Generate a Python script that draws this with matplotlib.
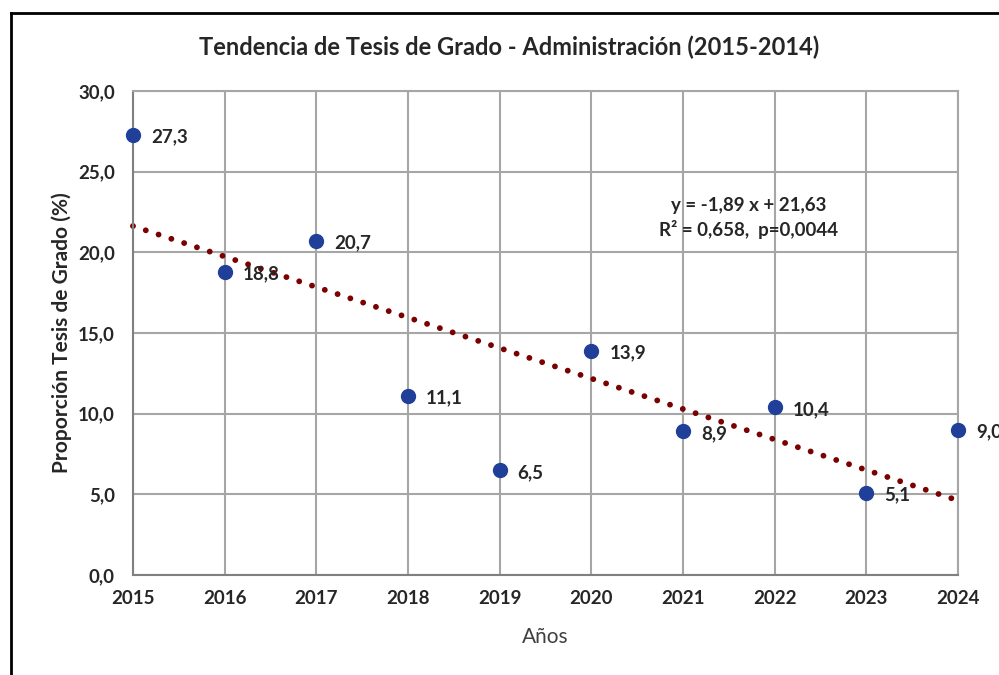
import matplotlib
matplotlib.use("Agg")
import matplotlib.pyplot as plt
from matplotlib.lines import Line2D
import numpy as np

years = [2015, 2016, 2017, 2018, 2019, 2020, 2021, 2022, 2023, 2024]
values = [27.3, 18.8, 20.7, 11.1, 6.5, 13.9, 8.9, 10.4, 5.1, 9.0]
slope = -1.89
intercept = 21.63
yticks = [0, 5, 10, 15, 20, 25, 30]

plt.rcParams['font.family'] = ['Lato', 'DejaVu Sans']

fig = plt.figure(figsize=(9.99, 6.75), dpi=100)
ax = fig.add_axes([0.1331, 0.1481, 0.959 - 0.1331, 0.8652 - 0.1481])

grid_c = '#A6A6A6'
ax.set_xlim(2015, 2024)
ax.set_ylim(0, 30)
ax.set_xticks(years)
ax.set_yticks(yticks)
ax.set_yticklabels([f"{v:.1f}".replace('.', ',') for v in yticks])
ax.grid(True, color=grid_c, linewidth=1.5)
ax.set_axisbelow(True)
for s in ax.spines.values():
    s.set_color(grid_c)
    s.set_linewidth(1.5)
ax.spines['left'].set_color('#808080')
ax.spines['bottom'].set_color('#808080')
ax.tick_params(axis='y', length=0, pad=13, labelsize=13.5, colors='#262626')
ax.tick_params(axis='x', length=0, pad=11, labelsize=13.5, colors='#262626')
for t in ax.get_xticklabels() + ax.get_yticklabels():
    t.set_fontweight('bold')

# trend line
xs = np.array(years, dtype=float)
tr = intercept + slope * (xs - years[0])
ax.plot(xs, tr, color='#7B0000', linewidth=4.2,
        linestyle=(0, (0.01, 2.3)), dash_capstyle='round', zorder=2, clip_on=False)

ax.scatter(years, values, s=100, color='#1F3F99', zorder=3, clip_on=False)
for x, v in zip(years, values):
    ax.annotate(f"{v:.1f}".replace('.', ','), (x, v), xytext=(13, -5.5),
                textcoords='offset points', fontsize=13.5, fontweight='bold',
                color='#262626', annotation_clip=False)

ax.text(2021.72, 22.9, "y = -1,89 x + 21,63", ha='center', va='center',
        fontsize=13.5, fontweight='bold', color='#262626')
ax.text(2021.72, 21.4, "R² = 0,658,  p=0,0044", ha='center', va='center',
        fontsize=13.5, fontweight='bold', color='#262626')

ax.set_xlabel("Años", fontsize=15, color='#404040', labelpad=14)
ax.set_ylabel("Proporción Tesis de Grado (%)", fontsize=15, fontweight='bold',
              color='#262626', labelpad=4)

fig.text(0.51, 0.93, "Tendencia de Tesis de Grado - Administración (2015-2014)",
         ha='center', va='center', fontsize=17, fontweight='bold', color='#262626')

# outer border (left and top visible)
fig.add_artist(Line2D([0.0115, 0.0115], [0, 0.981], transform=fig.transFigure,
                      color='black', linewidth=2))
fig.add_artist(Line2D([0.0115, 1.0], [0.981, 0.981], transform=fig.transFigure,
                      color='black', linewidth=2))

fig.savefig("out.png", dpi=100)
